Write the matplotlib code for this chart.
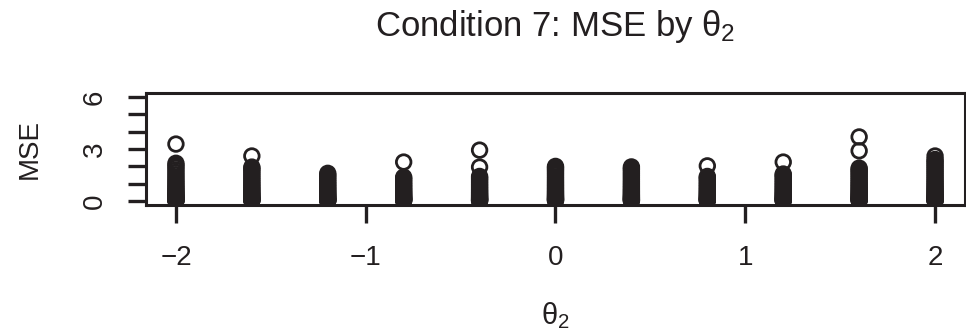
import matplotlib
matplotlib.use("Agg")
import matplotlib.pyplot as plt

plt.rcParams['font.family'] = ['Liberation Sans', 'DejaVu Sans']
plt.rcParams['mathtext.fontset'] = 'custom'
plt.rcParams['mathtext.rm'] = 'Liberation Sans'
plt.rcParams['mathtext.it'] = 'Liberation Sans'

# theta_2 grid values and the MSE values seen at each one
theta2 = [-2.0, -1.6, -1.2, -0.8, -0.4, 0.0, 0.4, 0.8, 1.2, 1.6, 2.0]

mse_m20 = [0.01, 0.03, 0.06, 0.09, 0.12, 0.16, 0.20, 0.25, 0.30, 0.36, 0.42, 0.49, 0.56, 0.64,
           0.73, 0.82, 0.92, 1.03, 1.14, 1.26, 1.39, 1.52, 1.66, 1.80, 1.94, 2.06, 2.18, 3.29]
mse_m16 = [0.02, 0.04, 0.07, 0.10, 0.14, 0.18, 0.23, 0.28, 0.34, 0.40, 0.47, 0.54, 0.62, 0.70,
           0.79, 0.88, 0.98, 1.08, 1.19, 1.30, 1.42, 1.54, 1.66, 1.78, 1.88, 1.96, 2.60]
mse_m12 = [0.01, 0.03, 0.05, 0.08, 0.11, 0.15, 0.19, 0.24, 0.29, 0.35, 0.41, 0.48, 0.55, 0.63,
           0.71, 0.80, 0.89, 0.98, 1.08, 1.18, 1.29, 1.40, 1.50, 1.60]
mse_m08 = [0.02, 0.04, 0.07, 0.10, 0.13, 0.17, 0.21, 0.26, 0.31, 0.37, 0.43, 0.50, 0.57, 0.65,
           0.73, 0.82, 0.91, 1.00, 1.10, 1.20, 1.30, 1.38, 2.25]
mse_m04 = [0.01, 0.03, 0.06, 0.09, 0.13, 0.17, 0.22, 0.27, 0.33, 0.39, 0.46, 0.53, 0.61, 0.69,
           0.78, 0.87, 0.96, 1.06, 1.16, 1.26, 1.34, 1.42, 1.96, 2.94]
mse_p00 = [0.02, 0.05, 0.08, 0.11, 0.15, 0.19, 0.24, 0.29, 0.35, 0.41, 0.48, 0.55, 0.63, 0.71,
           0.80, 0.89, 0.98, 1.08, 1.18, 1.29, 1.40, 1.52, 1.63, 1.74, 1.84, 1.92, 2.00]
mse_p04 = [0.01, 0.04, 0.07, 0.10, 0.14, 0.18, 0.22, 0.27, 0.32, 0.38, 0.45, 0.52, 0.59, 0.67,
           0.75, 0.84, 0.93, 1.03, 1.13, 1.24, 1.35, 1.46, 1.57, 1.68, 1.80, 1.88, 1.97]
mse_p08 = [0.02, 0.04, 0.06, 0.09, 0.12, 0.16, 0.20, 0.25, 0.30, 0.36, 0.42, 0.49, 0.56, 0.64,
           0.72, 0.81, 0.90, 0.99, 1.09, 1.19, 1.29, 1.36, 1.42, 2.03]
mse_p12 = [0.01, 0.03, 0.06, 0.09, 0.13, 0.17, 0.21, 0.26, 0.32, 0.38, 0.44, 0.51, 0.59, 0.67,
           0.75, 0.84, 0.93, 1.02, 1.12, 1.22, 1.32, 1.42, 1.50, 1.56, 2.25]
mse_p16 = [0.02, 0.05, 0.08, 0.11, 0.15, 0.19, 0.24, 0.29, 0.35, 0.41, 0.48, 0.55, 0.63, 0.71,
           0.80, 0.89, 0.98, 1.08, 1.18, 1.29, 1.40, 1.51, 1.62, 1.72, 1.82, 1.90, 2.90, 3.70]
mse_p20 = [0.01, 0.03, 0.06, 0.09, 0.12, 0.16, 0.21, 0.26, 0.31, 0.37, 0.44, 0.51, 0.58, 0.66,
           0.74, 0.83, 0.92, 1.02, 1.12, 1.23, 1.34, 1.46, 1.58, 1.70, 1.82, 1.94, 2.06, 2.18,
           2.30, 2.40, 2.60]

mse_lists = [mse_m20, mse_m16, mse_m12, mse_m08, mse_m04, mse_p00,
             mse_p04, mse_p08, mse_p12, mse_p16, mse_p20]

ink = '#231f20'

fig = plt.figure(figsize=(9.66, 3.35), dpi=100)
ax = fig.add_axes([0.1507, 0.3875, 0.8487, 0.335])

for t, vals in zip(theta2, mse_lists):
    ax.scatter([t] * len(vals), vals, s=110, facecolors='none',
               edgecolors=ink, linewidths=2.0)

ax.set_xlim(-2.16, 2.16)
ax.set_ylim(-0.24, 6.24)
ax.set_xticks([-2, -1, 0, 1, 2])
ax.set_xticklabels(['\u22122', '\u22121', '0', '1', '2'])
ax.set_yticks([0, 1, 2, 3, 4, 5, 6])
ax.set_yticklabels(['0', '', '', '3', '', '', '6'], rotation=90, va='center')

for sp in ax.spines.values():
    sp.set_linewidth(2.2)
    sp.set_color(ink)
ax.tick_params(axis='both', length=13, width=2.4, color=ink, labelsize=20,
               labelcolor=ink, direction='out')
ax.tick_params(axis='x', pad=16)
ax.tick_params(axis='y', pad=14)

ax.set_title(r'Condition 7: MSE by $\theta_2$', fontsize=25, color=ink, y=1.43)
ax.set_xlabel(r'$\theta_2$', fontsize=21, color=ink)
ax.xaxis.set_label_coords(0.5, -0.85)
ax.set_ylabel('MSE', fontsize=20, color=ink)
ax.yaxis.set_label_coords(-0.125, 0.5)

fig.savefig('out.png', dpi=100)
